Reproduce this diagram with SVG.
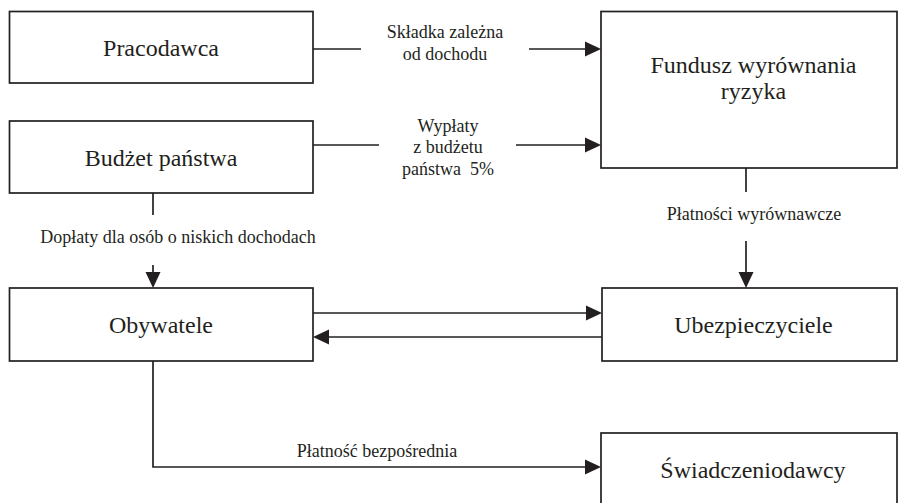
<svg xmlns="http://www.w3.org/2000/svg" width="898" height="503" viewBox="0 0 898 503">
<rect width="898" height="503" fill="#fff"/>
<g id="connectors" fill="none" stroke="#231f20" stroke-width="1.7">
<line x1="313" y1="49" x2="361" y2="49"/>
<line x1="529" y1="49" x2="586" y2="49"/>
<line x1="313" y1="145" x2="379" y2="145"/>
<line x1="516" y1="145" x2="586" y2="145"/>
<line x1="153" y1="193" x2="153" y2="215"/>
<line x1="153" y1="265" x2="153" y2="273"/>
<line x1="746" y1="168" x2="746" y2="192"/>
<line x1="746" y1="241" x2="746" y2="273"/>
<line x1="313" y1="313" x2="587" y2="313"/>
<line x1="602" y1="337" x2="328" y2="337"/>
<polyline points="153,361 153,467 586,467"/>
<g fill="#231f20" stroke="none">
<polygon points="585,41.5 601,49 585,56.5"/>
<polygon points="585,137.5 601,145 585,152.5"/>
<polygon points="145.5,272 153,288 160.5,272"/>
<polygon points="738.5,272 746,288 753.5,272"/>
<polygon points="586,305.5 602,313 586,320.5"/>
<polygon points="329,329.5 313,337 329,344.5"/>
<polygon points="585,459.5 601,467 585,474.5"/>
</g>
<g stroke="none" fill="#231f20" font-family="Liberation Serif" font-size="18" text-anchor="middle">
<text x="445" y="38">Składka zależna</text>
<text x="445" y="60">od dochodu</text>
<text x="448" y="132">Wypłaty</text>
<text x="448" y="153">z budżetu</text>
<text x="448" y="175" xml:space="preserve">państwa  5%</text>
<text x="178" y="243">Dopłaty dla osób o niskich dochodach</text>
<text x="754" y="220">Płatności wyrównawcze</text>
<text x="377" y="457">Płatność bezpośrednia</text>
</g>
</g>
<g id="nodes" font-family="Liberation Serif" font-size="24" text-anchor="middle">
<g id="pracodawca">
<rect x="9.5" y="11.5" width="303.5" height="71.5" fill="#fff" stroke="#231f20" stroke-width="1.7"/>
<text x="161" y="56" fill="#231f20">Pracodawca</text>
</g>
<g id="budzet">
<rect x="9.5" y="121" width="303.5" height="72" fill="#fff" stroke="#231f20" stroke-width="1.7"/>
<text x="161" y="166" fill="#231f20">Budżet państwa</text>
</g>
<g id="fundusz">
<rect x="601" y="11.5" width="296" height="156.5" fill="#fff" stroke="#231f20" stroke-width="1.7"/>
<text x="753.5" y="73" fill="#231f20">Fundusz wyrównania</text>
<text x="753.5" y="99" fill="#231f20">ryzyka</text>
</g>
<g id="obywatele">
<rect x="9.5" y="288" width="303.5" height="73" fill="#fff" stroke="#231f20" stroke-width="1.7"/>
<text x="161" y="333" fill="#231f20">Obywatele</text>
</g>
<g id="ubezpieczyciele">
<rect x="602" y="288" width="295" height="73" fill="#fff" stroke="#231f20" stroke-width="1.7"/>
<text x="753.5" y="333" fill="#231f20">Ubezpieczyciele</text>
</g>
<g id="swiadczeniodawcy">
<rect x="601" y="433" width="296" height="80" fill="#fff" stroke="#231f20" stroke-width="1.7"/>
<text x="753" y="478" fill="#231f20">Świadczeniodawcy</text>
</g>
</g>
</svg>
